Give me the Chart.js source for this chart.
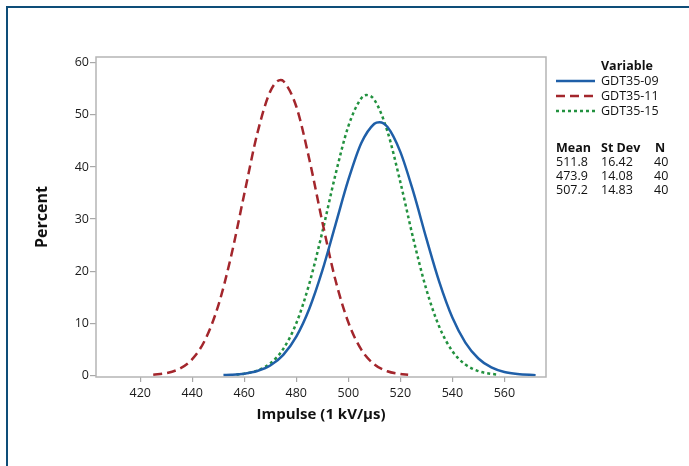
<!DOCTYPE html>
<html>
<head>
<meta charset="utf-8">
<script src="https://cdn.jsdelivr.net/npm/chart.js@4"></script>
<style>
  html, body { margin: 0; padding: 0; background: #fff; overflow: hidden; }
  #wrap { position: relative; width: 689px; height: 466px; }
  #frame { position: absolute; left: 6px; top: 6px; width: 720px; height: 500px;
           border-top: 2px solid #0e4d78; border-left: 2px solid #0e4d78; }
  canvas { position: absolute; left: 0; top: 0; }
</style>
</head>
<body>
<div id="wrap">
  <div id="frame"></div>
  <canvas id="chart" width="689" height="466"></canvas>
</div>
<script>
// fitted normal curves (Percent vs Impulse)
const seriesNames = ['GDT35-09', 'GDT35-11', 'GDT35-15'];

const x09 = [452, 455, 460, 465, 470, 475, 480, 485, 490, 495, 500, 505, 510, 512, 515, 520, 525, 530, 535, 540, 545, 550, 555, 560, 565, 572];
const y09 = [0.06, 0.12, 0.34, 0.84, 1.9, 3.95, 7.44, 12.8, 20.1, 28.8, 37.5, 44.6, 48.3, 48.6, 47.7, 42.9, 35.2, 26.3, 17.9, 11.1, 6.3, 3.25, 1.53, 0.65, 0.26, 0.06];

const x11 = [425, 430, 435, 440, 445, 450, 455, 460, 465, 470, 474, 475, 480, 485, 490, 495, 500, 505, 510, 515, 520, 523];
const y11 = [0.14, 0.44, 1.25, 3.12, 6.89, 13.4, 23.0, 34.8, 46.4, 54.5, 56.7, 56.5, 51.6, 41.5, 29.5, 18.4, 10.2, 4.94, 2.12, 0.8, 0.27, 0.13];

const x15 = [457, 460, 465, 470, 475, 480, 485, 490, 495, 500, 505, 507, 510, 515, 520, 525, 530, 535, 540, 545, 550, 555, 558];
const y15 = [0.18, 0.34, 0.94, 2.31, 5.09, 10.0, 17.6, 27.5, 38.4, 47.8, 53.2, 53.8, 52.9, 46.9, 37.1, 26.2, 16.5, 9.29, 4.66, 2.09, 0.84, 0.3, 0.15];

const means = ['511.8', '473.9', '507.2'];
const stDevs = ['16.42', '14.08', '14.83'];
const counts = ['40', '40', '40'];

const xTicks = [420, 440, 460, 480, 500, 520, 540, 560];
const yTicks = [0, 10, 20, 30, 40, 50, 60];

const colors = ['#1f5fa8', '#a3262c', '#22913f'];
const dashes = [[], [9, 5], [3, 3]];

const FONT = '"Open Sans", sans-serif';

function pts(xs, ys) {
  return xs.map((x, i) => ({ x, y: ys[i] }));
}

const framePlugin = {
  id: 'frame',
  afterDatasetsDraw(chart) {
    const { ctx, chartArea: a } = chart;
    ctx.save();
    ctx.strokeStyle = '#b5b5b5';
    ctx.lineWidth = 1.5;
    ctx.strokeRect(a.left, a.top, a.right - a.left, a.bottom - a.top);
    ctx.restore();
  }
};

const statsLegend = {
  id: 'statsLegend',
  afterDraw(chart) {
    const ctx = chart.ctx;
    const sets = chart.data.datasets;
    ctx.save();
    ctx.textBaseline = 'middle';
    ctx.fillStyle = '#111';
    ctx.font = `bold 12.5px ${FONT}`;
    ctx.fillText('Variable', 601, 66);
    ctx.font = `12.5px ${FONT}`;
    sets.forEach((ds, i) => {
      const y = 81 + i * 15;
      ctx.strokeStyle = ds.borderColor;
      ctx.lineWidth = 2.5;
      ctx.setLineDash(ds.borderDash);
      ctx.beginPath();
      ctx.moveTo(556, y);
      ctx.lineTo(595, y);
      ctx.stroke();
      ctx.setLineDash([]);
      ctx.fillText(seriesNames[i], 601, y);
    });
    ctx.font = `bold 12.5px ${FONT}`;
    ctx.fillText('Mean', 556, 148);
    ctx.fillText('St Dev', 601, 148);
    ctx.fillText('N', 655, 148);
    ctx.font = `12.5px ${FONT}`;
    means.forEach((m, i) => {
      const y = 162 + i * 14;
      ctx.fillText(m, 556, y);
      ctx.fillText(stDevs[i], 601, y);
      ctx.fillText(counts[i], 654, y);
    });
    ctx.restore();
  }
};

new Chart(document.getElementById('chart'), {
  type: 'line',
  data: {
    datasets: [
      { label: seriesNames[0], data: pts(x09, y09) },
      { label: seriesNames[1], data: pts(x11, y11) },
      { label: seriesNames[2], data: pts(x15, y15) }
    ].map((d, i) => ({
      ...d,
      borderColor: colors[i],
      borderDash: dashes[i],
      borderWidth: 2.5,
      pointRadius: 0,
      fill: false,
      cubicInterpolationMode: 'monotone'
    }))
  },
  options: {
    responsive: false,
    animation: false,
    layout: { padding: { top: 57, right: 143, left: 0, bottom: 0 } },
    plugins: { legend: { display: false }, tooltip: { enabled: false } },
    scales: {
      x: {
        type: 'linear',
        min: 403,
        max: 576,
        afterBuildTicks: s => { s.ticks = xTicks.map(v => ({ value: v })); },
        afterFit: s => { s.height = 89; },
        grid: { drawOnChartArea: false, tickLength: 5, color: '#a8a8a8', lineWidth: 1.2 },
        border: { display: false },
        ticks: { padding: 4, color: '#1a1a1a', font: { family: FONT, size: 12.5 } },
        title: { display: true, text: 'Impulse (1 kV/µs)', color: '#111',
                 font: { family: FONT, size: 15, weight: 'bold' }, padding: { top: 0, bottom: 42 } }
      },
      y: {
        min: -0.3,
        max: 61.1,
        afterBuildTicks: s => { s.ticks = yTicks.map(v => ({ value: v })); },
        afterFit: s => { s.width = 96; },
        grid: { drawOnChartArea: false, tickLength: 6, color: '#a8a8a8', lineWidth: 1.2 },
        border: { display: false },
        ticks: { padding: 1, color: '#1a1a1a', font: { family: FONT, size: 12.5 } },
        title: { display: true, text: 'Percent', color: '#111',
                 font: { family: FONT, size: 16, weight: 'bold' }, padding: { top: 33, bottom: 0 } }
      }
    }
  },
  plugins: [framePlugin, statsLegend]
});
</script>
</body>
</html>
